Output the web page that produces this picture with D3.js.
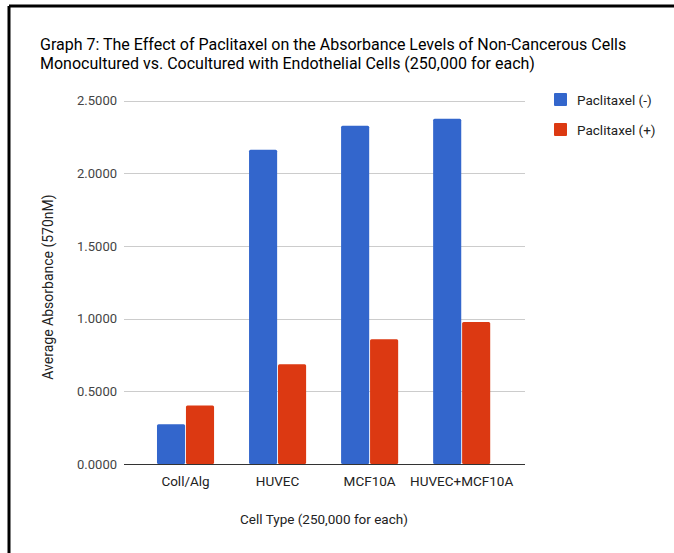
<!DOCTYPE html>
<html>
<head>
<meta charset="utf-8">
<script src="https://cdn.jsdelivr.net/npm/d3@7"></script>
<style>
  body { margin: 0; background: #fff; }
  svg { display: block; font-family: Roboto, Arial, sans-serif; }
</style>
</head>
<body>
<svg width="674" height="553"></svg>
<script>
const categories = ["Coll/Alg", "HUVEC", "MCF10A", "HUVEC+MCF10A"]
const seriesNames = ["Paclitaxel (-)", "Paclitaxel (+)"]
const withoutPaclitaxel = [0.273, 2.163, 2.328, 2.376]
const withPaclitaxel = [0.403, 0.687, 0.858, 0.978]
const yTicks = [0, 0.5, 1.0, 1.5, 2.0, 2.5]
const colors = ["#3366cc", "#dc3912"]

const data = categories.map((c, i) => ({
  cat: c,
  vals: [withoutPaclitaxel[i], withPaclitaxel[i]]
}))

const svg = d3.select("svg")

// frame lines (top & left)
svg.append("line").attr("x1", 9).attr("x2", 674).attr("y1", 6).attr("y2", 6)
  .attr("stroke", "#000").attr("stroke-width", 3)
svg.append("line").attr("x1", 9).attr("x2", 9).attr("y1", 6).attr("y2", 553)
  .attr("stroke", "#000").attr("stroke-width", 3)

// title
const title = svg.append("text")
  .style("font-size", "16px").attr("fill", "#000")
title.append("tspan").attr("x", 40).attr("y", 50)
  .text("Graph 7: The Effect of Paclitaxel on the Absorbance Levels of Non-Cancerous Cells")
title.append("tspan").attr("x", 40).attr("y", 69)
  .text("Monocultured vs. Cocultured with Endothelial Cells (250,000 for each)")

const plotLeft = 124, plotRight = 525

const yScale = d3.scaleLinear()
  .domain([0, 2.5])
  .range([464, 100.7])

const xScale = d3.scaleBand()
  .domain(categories)
  .range([139.5, 507.7])
  .paddingInner(0)

const innerScale = d3.scaleBand()
  .domain([0, 1])
  .range([xScale.bandwidth() * 0.19, xScale.bandwidth() * 0.81])
  .paddingInner(0.03)

// gridlines
svg.append("g").selectAll("line")
  .data(yTicks.filter(t => t > 0))
  .enter().append("line")
  .attr("x1", plotLeft).attr("x2", plotRight)
  .attr("y1", d => Math.round(yScale(d)) + 0.5)
  .attr("y2", d => Math.round(yScale(d)) + 0.5)
  .attr("stroke", "#cccccc").attr("stroke-width", 1)

// y tick labels
svg.append("g").selectAll("text")
  .data(yTicks)
  .enter().append("text")
  .attr("x", 117)
  .attr("y", d => yScale(d) + 4.5)
  .attr("text-anchor", "end")
  .style("font-size", "13px")
  .attr("fill", "#444")
  .text(d => d3.format(".4f")(d))

// bars
const groups = svg.append("g").selectAll("g")
  .data(data)
  .enter().append("g")
  .attr("transform", d => `translate(${xScale(d.cat)},0)`)

groups.selectAll("rect")
  .data(d => d.vals)
  .enter().append("rect")
  .attr("x", (d, i) => innerScale(i))
  .attr("width", innerScale.bandwidth())
  .attr("y", d => yScale(d))
  .attr("height", d => yScale(0) - yScale(d))
  .attr("rx", 1.5)
  .attr("fill", (d, i) => colors[i])

// baseline
svg.append("line")
  .attr("x1", plotLeft).attr("x2", plotRight)
  .attr("y1", yScale(0) + 0.5).attr("y2", yScale(0) + 0.5)
  .attr("stroke", "#333").attr("stroke-width", 1)

// x labels
svg.append("g").selectAll("text")
  .data(categories)
  .enter().append("text")
  .attr("x", d => xScale(d) + xScale.bandwidth() / 2)
  .attr("y", 486)
  .attr("text-anchor", "middle")
  .style("font-size", "13.5px")
  .attr("fill", "#222")
  .text(d => d)

// axis titles
svg.append("text")
  .attr("x", 324).attr("y", 524)
  .attr("text-anchor", "middle")
  .style("font-size", "13.5px").attr("fill", "#222")
  .text("Cell Type (250,000 for each)")

svg.append("text")
  .attr("transform", "translate(53,287) rotate(-90)")
  .attr("text-anchor", "middle")
  .style("font-size", "14px").attr("fill", "#222")
  .text("Average Absorbance (570nM)")

// legend
const legend = svg.append("g").selectAll("g")
  .data(seriesNames)
  .enter().append("g")
  .attr("transform", (d, i) => `translate(554,${93 + i * 30})`)

legend.append("rect")
  .attr("width", 13).attr("height", 13).attr("rx", 1)
  .attr("fill", (d, i) => colors[i])

legend.append("text")
  .attr("x", 23).attr("y", 11.5)
  .style("font-size", "13.5px").attr("fill", "#222")
  .text(d => d)
</script>
</body>
</html>
